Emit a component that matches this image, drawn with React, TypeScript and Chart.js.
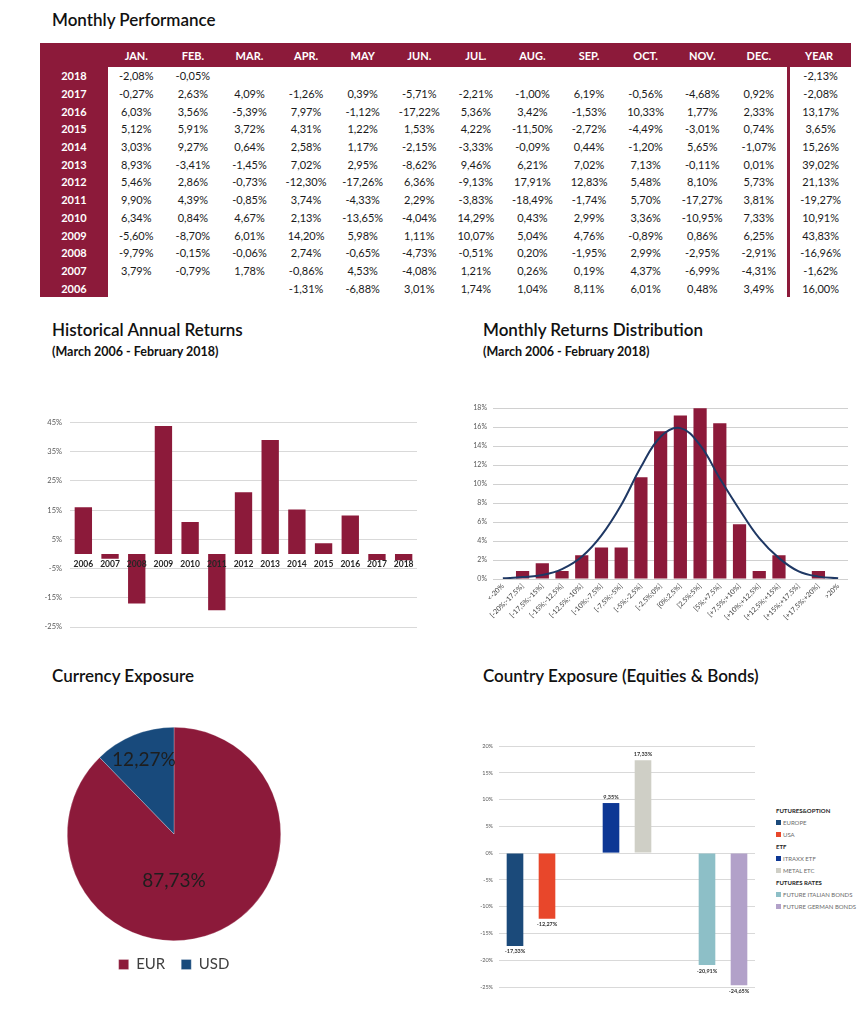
import React, { useEffect, useRef } from "react";
import { Chart, registerables } from "chart.js";

Chart.register(...registerables);

const CRIMSON = "#8c1a3a";
const NAVY_LINE = "#1f3864";
const FONT = "Lato, 'Open Sans', 'DejaVu Sans', sans-serif";

// ---------- Monthly performance table ----------
const tableYears = [2018, 2017, 2016, 2015, 2014, 2013, 2012, 2011, 2010, 2009, 2008, 2007, 2006];
const monthHeaders = ["JAN.", "FEB.", "MAR.", "APR.", "MAY", "JUN.", "JUL.", "AUG.", "SEP.", "OCT.", "NOV.", "DEC."];
const returns2018 = [-2.08, -0.05, null, null, null, null, null, null, null, null, null, null];
const returns2017 = [-0.27, 2.63, 4.09, -1.26, 0.39, -5.71, -2.21, -1.0, 6.19, -0.56, -4.68, 0.92];
const returns2016 = [6.03, 3.56, -5.39, 7.97, -1.12, -17.22, 5.36, 3.42, -1.53, 10.33, 1.77, 2.33];
const returns2015 = [5.12, 5.91, 3.72, 4.31, 1.22, 1.53, 4.22, -11.5, -2.72, -4.49, -3.01, 0.74];
const returns2014 = [3.03, 9.27, 0.64, 2.58, 1.17, -2.15, -3.33, -0.09, 0.44, -1.2, 5.65, -1.07];
const returns2013 = [8.93, -3.41, -1.45, 7.02, 2.95, -8.62, 9.46, 6.21, 7.02, 7.13, -0.11, 0.01];
const returns2012 = [5.46, 2.86, -0.73, -12.3, -17.26, 6.36, -9.13, 17.91, 12.83, 5.48, 8.1, 5.73];
const returns2011 = [9.9, 4.39, -0.85, 3.74, -4.33, 2.29, -3.83, -18.49, -1.74, 5.7, -17.27, 3.81];
const returns2010 = [6.34, 0.84, 4.67, 2.13, -13.65, -4.04, 14.29, 0.43, 2.99, 3.36, -10.95, 7.33];
const returns2009 = [-5.6, -8.7, 6.01, 14.2, 5.98, 1.11, 10.07, 5.04, 4.76, -0.89, 0.86, 6.25];
const returns2008 = [-9.79, -0.15, -0.06, 2.74, -0.65, -4.73, -0.51, 0.2, -1.95, 2.99, -2.95, -2.91];
const returns2007 = [3.79, -0.79, 1.78, -0.86, 4.53, -4.08, 1.21, 0.26, 0.19, 4.37, -6.99, -4.31];
const returns2006 = [null, null, null, -1.31, -6.88, 3.01, 1.74, 1.04, 8.11, 6.01, 0.48, 3.49];
const monthlyRows = [
  returns2018, returns2017, returns2016, returns2015, returns2014, returns2013, returns2012,
  returns2011, returns2010, returns2009, returns2008, returns2007, returns2006,
];
const yearTotals = [-2.13, -2.08, 13.17, 3.65, 15.26, 39.02, 21.13, -19.27, 10.91, 43.83, -16.96, -1.62, 16.0];

// ---------- Historical annual returns ----------
const annualYears = ["2006", "2007", "2008", "2009", "2010", "2011", "2012", "2013", "2014", "2015", "2016", "2017", "2018"];
const annualReturns = [16.0, -1.62, -16.96, 43.83, 10.91, -19.27, 21.13, 39.02, 15.26, 3.65, 13.17, -2.08, -2.13];

// ---------- Monthly returns distribution ----------
const distBuckets = [
  "<-20%", "[-20%;-17,5%]", "[-17,5%;-15%]", "[-15%;-12,5%]", "[-12,5%;-10%]", "[-10%;-7,5%]",
  "[-7,5%;-5%]", "[-5%;-2,5%]", "[-2,5%;0%]", "[0%;2,5%]", "[2,5%;5%]", "[5%;+7,5%]",
  "[+7,5%;+10%]", "[+10%;+12,5%]", "[+12,5%;+15%]", "[+15%;+17,5%]", "[+17,5%;+20%]", ">20%",
];
const distFrequency = [0, 0.83, 1.67, 0.83, 2.5, 3.33, 3.33, 10.72, 15.58, 17.23, 18.08, 16.42, 5.77, 0.83, 2.5, 0, 0.83, 0];
const distNormal = [0.07, 0.2, 0.42, 1.05, 2.35, 4.6, 7.8, 11.8, 15.0, 15.9, 14.1, 10.6, 7.3, 4.3, 2.2, 0.8, 0.25, 0.07];

// ---------- Currency exposure ----------
const currencyLabels = ["EUR", "USD"];
const currencyValues = [87.73, 12.27];
const currencyColors = [CRIMSON, "#184a7c"];

// ---------- Country exposure ----------
const exposureLabels = ["EUROPE", "USA", "", "ITRAXX ETF", "METAL ETC", "", "FUTURE ITALIAN BONDS", "FUTURE GERMAN BONDS"];
const exposureValues = [-17.33, -12.27, null, 9.35, 17.33, null, -20.91, -24.65];
const exposureColors = ["#1b4a7a", "#e8472b", "transparent", "#0d3794", "#cfcfc6", "transparent", "#8dbfc7", "#b2a1c9"];
const exposureGroups = [
  { title: "FUTURES&OPTION", items: [0, 1] },
  { title: "ETF", items: [3, 4] },
  { title: "FUTURES RATES", items: [6, 7] },
];

const fmt = (v: number) => v.toFixed(2).replace(".", ",") + "%";

function ChartBox({ make, style }: { make: () => any; style: React.CSSProperties }) {
  const ref = useRef<HTMLCanvasElement>(null);
  useEffect(() => {
    const chart = new Chart(ref.current as HTMLCanvasElement, make());
    return () => chart.destroy();
  }, []);
  return (
    <div style={{ position: "absolute", ...style }}>
      <canvas ref={ref} />
    </div>
  );
}

function Title({ text, x, y, size = 17, bold = false }: { text: string; x: number; y: number; size?: number; bold?: boolean }) {
  return (
    <div
      style={{
        position: "absolute",
        left: x,
        top: y - size * 0.6,
        fontFamily: FONT,
        fontSize: size,
        lineHeight: `${size * 1.2}px`,
        fontWeight: bold ? 700 : 600,
        color: "#111",
        whiteSpace: "nowrap",
      }}
    >
      {text}
    </div>
  );
}

function PerformanceTable() {
  const yearW = 68;
  const monthW = 56.6;
  const totalW = 64;
  const headH = 24;
  const rowH = 17.7;
  const cell: React.CSSProperties = {
    display: "flex",
    alignItems: "center",
    justifyContent: "center",
    boxSizing: "border-box",
    whiteSpace: "nowrap",
  };
  return (
    <div style={{ position: "absolute", left: 40, top: 43, width: yearW + monthW * 12 + totalW, fontFamily: FONT, fontSize: 11 }}>
      <div style={{ display: "flex", height: headH, background: CRIMSON, color: "#fff", fontWeight: 700 }}>
        <div style={{ ...cell, width: yearW }} />
        {monthHeaders.map((m) => (
          <div key={m} style={{ ...cell, width: monthW }}>{m}</div>
        ))}
        <div style={{ ...cell, width: totalW }}>YEAR</div>
      </div>
      {tableYears.map((yr, r) => (
        <div key={yr} style={{ display: "flex", height: rowH }}>
          <div style={{ ...cell, width: yearW, background: CRIMSON, color: "#fff", fontWeight: 700 }}>{yr}</div>
          {monthlyRows[r].map((v, c) => (
            <div key={c} style={{ ...cell, width: monthW, color: "#1a1a1a" }}>{v === null ? "" : fmt(v)}</div>
          ))}
          <div style={{ ...cell, width: totalW, color: "#1a1a1a", borderLeft: `3px solid ${CRIMSON}` }}>{fmt(yearTotals[r])}</div>
        </div>
      ))}
    </div>
  );
}

const annualConfig = () => ({
  type: "bar",
  data: {
    labels: annualYears,
    datasets: [{ data: annualReturns, backgroundColor: CRIMSON, barPercentage: 0.65, categoryPercentage: 1 }],
  },
  options: {
    animation: false,
    responsive: true,
    maintainAspectRatio: false,
    layout: { padding: { top: 11, bottom: 13, right: 8, left: 0 } },
    plugins: { legend: { display: false }, tooltip: { enabled: false } },
    scales: {
      x: {
        position: { y: 0 },
        grid: { display: false, drawTicks: false },
        border: { display: false },
        ticks: { z: 2, font: { family: FONT, size: 8.5, weight: "bold" }, color: "#262626", padding: 5, maxRotation: 0, autoSkip: false },
      },
      y: {
        min: -25,
        max: 45,
        ticks: { stepSize: 10, callback: (v: number) => v + "%", font: { family: FONT, size: 7.5 }, color: "#595959", padding: 8 },
        grid: { color: "#d9d9d9", drawTicks: false },
        border: { display: false },
        afterFit: (s: any) => { s.width = 50; },
      },
    },
  },
});

const distConfig = () => ({
  type: "bar",
  data: {
    labels: distBuckets,
    datasets: [
      { type: "line", data: distNormal, borderColor: NAVY_LINE, borderWidth: 2, pointRadius: 0, tension: 0.4, fill: false, order: 0 },
      { type: "bar", data: distFrequency, backgroundColor: CRIMSON, barPercentage: 0.67, categoryPercentage: 1, order: 1 },
    ],
  },
  options: {
    animation: false,
    responsive: true,
    maintainAspectRatio: false,
    layout: { padding: { top: 10, bottom: 0, right: 12, left: 0 } },
    plugins: { legend: { display: false }, tooltip: { enabled: false } },
    scales: {
      x: {
        grid: { display: false, drawTicks: false },
        border: { display: false },
        ticks: { font: { family: FONT, size: 7 }, color: "#404040", padding: 3, maxRotation: 45, minRotation: 45, autoSkip: false },
        afterFit: (s: any) => { s.height = 59; },
      },
      y: {
        min: 0,
        max: 18,
        ticks: { stepSize: 2, callback: (v: number) => v + "%", font: { family: FONT, size: 7 }, color: "#595959", padding: 6 },
        grid: { color: "#d0d0d0", drawTicks: false },
        border: { display: false },
        afterFit: (s: any) => { s.width = 33; },
      },
    },
  },
});

const pieLabelPlugin = {
  id: "pieLabels",
  afterDatasetsDraw(chart: any) {
    const meta = chart.getDatasetMeta(0);
    const ctx = chart.ctx;
    const place = [
      { angle: Math.PI / 2, f: 0.44 },
      { angle: null as number | null, f: 0.75 },
    ];
    ctx.save();
    ctx.font = `19px ${FONT}`;
    ctx.fillStyle = "#1e1e1e";
    ctx.textAlign = "center";
    ctx.textBaseline = "middle";
    meta.data.forEach((arc: any, i: number) => {
      const p = arc.getProps(["x", "y", "startAngle", "endAngle", "outerRadius"], true);
      const a = place[i].angle ?? (p.startAngle + p.endAngle) / 2;
      const r = p.outerRadius * place[i].f;
      ctx.fillText(fmt(currencyValues[i]), p.x + Math.cos(a) * r, p.y + Math.sin(a) * r);
    });
    ctx.restore();
  },
};

const pieConfig = () => ({
  type: "pie",
  data: {
    labels: currencyLabels,
    datasets: [{ data: currencyValues, backgroundColor: currencyColors, borderWidth: 0.5, borderColor: "rgba(255,255,255,0.5)" }],
  },
  options: {
    animation: false,
    responsive: true,
    maintainAspectRatio: false,
    layout: { padding: { top: 9, bottom: 0, left: 22, right: 24 } },
    plugins: {
      tooltip: { enabled: false },
      legend: {
        position: "bottom",
        labels: { font: { family: FONT, size: 15 }, color: "#404040", boxWidth: 10, boxHeight: 10, padding: 16 },
      },
    },
  },
  plugins: [pieLabelPlugin],
});

const barLabelPlugin = {
  id: "barLabels",
  afterDatasetsDraw(chart: any) {
    const meta = chart.getDatasetMeta(0);
    const ctx = chart.ctx;
    ctx.save();
    ctx.font = `bold 5.5px ${FONT}`;
    ctx.fillStyle = "#333";
    ctx.textAlign = "center";
    meta.data.forEach((bar: any, i: number) => {
      const v = exposureValues[i];
      if (v === null) return;
      if (v >= 0) {
        ctx.textBaseline = "bottom";
        ctx.fillText(fmt(v), bar.x, bar.y - 3);
      } else {
        ctx.textBaseline = "top";
        ctx.fillText(fmt(v), bar.x, bar.y + 3);
      }
    });
    ctx.restore();
  },
};

const exposureConfig = () => ({
  type: "bar",
  data: {
    labels: exposureLabels,
    datasets: [{ data: exposureValues, backgroundColor: exposureColors, barPercentage: 0.52, categoryPercentage: 1 }],
  },
  options: {
    animation: false,
    responsive: true,
    maintainAspectRatio: false,
    layout: { padding: { top: 10, bottom: 14, right: 10, left: 0 } },
    plugins: { legend: { display: false }, tooltip: { enabled: false } },
    scales: {
      x: { display: false },
      y: {
        min: -25,
        max: 20,
        ticks: { stepSize: 5, callback: (v: number) => v + "%", font: { family: FONT, size: 5.5 }, color: "#595959", padding: 6 },
        grid: { color: "#d9d9d9", drawTicks: false },
        border: { display: false },
        afterFit: (s: any) => { s.width = 34; },
      },
    },
  },
  plugins: [barLabelPlugin],
});

function ExposureLegend() {
  const lines: { text: string; color?: string; header: boolean }[] = [];
  exposureGroups.forEach((g) => {
    lines.push({ text: g.title, header: true });
    g.items.forEach((i) => lines.push({ text: exposureLabels[i], color: exposureColors[i], header: false }));
  });
  return (
    <div style={{ position: "absolute", left: 776, top: 804, fontFamily: FONT, fontSize: 6 }}>
      {lines.map((l, i) => (
        <div key={i} style={{ height: 12, display: "flex", alignItems: "center", whiteSpace: "nowrap" }}>
          {l.header ? (
            <span style={{ fontWeight: 700, color: "#262626" }}>{l.text}</span>
          ) : (
            <>
              <span style={{ display: "inline-block", width: 5, height: 5, background: l.color, marginRight: 2 }} />
              <span style={{ color: "#6b6b6b" }}>{l.text}</span>
            </>
          )}
        </div>
      ))}
    </div>
  );
}

export default function App() {
  useEffect(() => {
    document.body.style.margin = "0";
    document.body.style.background = "#fff";
  }, []);
  return (
    <div style={{ position: "relative", width: 865, height: 1009, background: "#fff", overflow: "hidden" }}>
      <Title text="Monthly Performance" x={52} y={20} />
      <PerformanceTable />

      <Title text="Historical Annual Returns" x={52} y={330} />
      <Title text="(March 2006 - February 2018)" x={52} y={351} size={12.5} bold />
      <ChartBox make={annualConfig} style={{ left: 20, top: 410, width: 405, height: 230 }} />

      <Title text="Monthly Returns Distribution" x={483} y={330} />
      <Title text="(March 2006 - February 2018)" x={483} y={351} size={12.5} bold />
      <ChartBox make={distConfig} style={{ left: 460, top: 398, width: 400, height: 240 }} />

      <Title text="Currency Exposure" x={52} y={676} />
      <ChartBox make={pieConfig} style={{ left: 40, top: 718, width: 270, height: 264 }} />

      <Title text="Country Exposure (Equities & Bonds)" x={483} y={676} />
      <ChartBox make={exposureConfig} style={{ left: 465, top: 736, width: 300, height: 265 }} />
      <ExposureLegend />
    </div>
  );
}
